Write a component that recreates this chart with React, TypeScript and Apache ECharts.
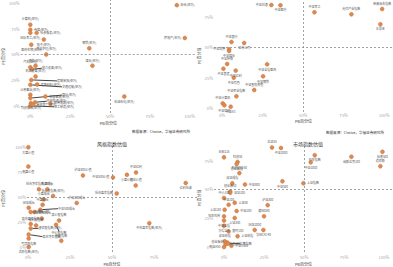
import React, { useEffect, useRef } from "react";
import * as echarts from "echarts";

const FONT = "'Noto Sans CJK SC', 'Noto Sans', sans-serif";

const tickValues = [0, 25, 50, 75, 100];
const tickValuesBL = [0, 25, 50, 75];
const xAxisName = "PB百分位";
const yAxisName = "PE百分位";
const titleBL = "风格指数估值";
const titleBR = "市场指数估值";
const sourceText = "数据来源：Choice，华福证券研究所";

// Top-left: industry indices (申万)
const tlNames = [
  "综合(申万)", "房地产(申万)", "钢铁(申万)", "煤炭(申万)", "石油石化(申万)",
  "计算机(申万)", "传媒(申万)", "国防军工(申万)", "社会服务(申万)", "电子(申万)",
  "医药生物(申万)", "美容护理(申万)", "通信(申万)", "汽车(申万)", "电力设备(申万)",
  "机械设备(申万)", "建筑装饰(申万)", "建筑材料(申万)", "交通运输(申万)", "公用事业(申万)",
  "银行(申万)", "非银金融(申万)", "家用电器(申万)", "纺织服饰(申万)", "轻工制造(申万)",
  "商贸零售(申万)", "农林牧渔(申万)",
];
const tlX = [92, 97, 37, 39, 59, 0, 0, 0, 4, 8.5, 0.6, 10, 3.3, 0, 1.2, 3.3, 0.6, 4.3, 0, 0, 0, 9.5, 12.6, 0.4, 0, 1.5, 3];
const tlY = [98, 66, 56, 39, 9, 79, 74, 71, 71, 64.5, 59.5, 50, 39, 37.5, 35.6, 28.5, 25.2, 20.7, 20.4, 10.7, 7.5, 9, 2.3, 2.6, 0, 1, 3.5];
const tlPos = ["right", "left", "top", "top", "bottom", "top", "right", "bottom", "right", "bottom", "bottom", "top", "top", "top", "right", "top", "right", "right", "right", "top", "right", "right", "right", "bottom", "right", "right", "right"];
const tlLeader: Record<number, [number, number]> = { 14: [6, -1], 16: [22, 1], 18: [28, 2], 20: [28, -3], 24: [20, 1], 26: [8, -1] };

// Top-right: theme indices
const trNames = [
  "中证白酒", "中证医疗", "中证军工", "光伏产业指数", "新能源车指数",
  "半导体", "中证银行", "证券公司", "中证消费", "中证煤炭",
  "中证环保", "中证基建", "中证全指医药", "中证红利", "中证有色",
  "中证钢铁", "中证畜牧养殖", "中证农业指数", "中证计算机", "中证信创", "中证5G",
];
const trX = [30.4, 36, 57, 79.8, 98.8, 97.7, 5.8, 13.6, 4.3, 4.3, 3.1, 0.8, 27.8, 8.4, 7.2, 25.3, 19.8, 8.8, 0.4, 1.4, 5.3];
const trY = [84.9, 84.7, 78.9, 77.2, 81.6, 69, 54.4, 53.6, 48.4, 47, 36.3, 32.4, 36, 30.8, 25, 26.1, 14.8, 9.6, 3.8, 2.2, 1.1];
const trPos = ["left", "bottom", "top", "top", "top", "bottom", "top", "bottom", "left", "bottom", "top", "bottom", "bottom", "bottom", "bottom", "bottom", "top", "top", "top", "bottom", "bottom"];
const trLeader: Record<number, [number, number]> = {};

// Bottom-left: style indices
const blNames = [
  "大盘价值", "中盘价值", "沪深300价值", "中证500价值", "小盘价值",
  "中证红利", "国证价值", "红利低波", "低市盈率指数", "低市净率指数(申万)",
  "大盘成长", "低价股指数(申万)", "小盘成长", "中盘成长", "沪深300成长",
  "国证成长", "创成长", "成长100", "中证500成长", "中证1000成长",
  "高价股指数", "中价股指数", "高市盈率指数", "微利股指数", "绩优股指数(申万)",
  "高市净率指数", "亏损股指数", "中市盈率指数(申万)", "新股指数", "活跃指数(申万)",
];
const blX = [0.2, 0.2, 32.7, 50.6, 58.9, 64.3, 64.1, 93.9, 52.8, 6.5, 11.5, 14.9, 9.3, 8.7, 29, 0.4, 1.6, 3.8, 7.3, 8.2, 18.5, 16.7, 1.6, 4.8, 1.6, 0.4, 0.4, 72.2, 19.8, 0.4];
const blY = [99.7, 80.4, 71.6, 69.6, 72.2, 74.5, 61.5, 64, 53.6, 57.8, 57.8, 51, 47.7, 42.2, 44.1, 39.2, 35, 35, 37.3, 28.4, 26.5, 22.2, 22.9, 21.6, 18.6, 12.4, 8.5, 23.8, 6.2, 0];
const blPos = ["bottom", "bottom", "top", "left", "bottom", "top", "top", "bottom", "left", "top", "top", "top", "top", "top", "top", "top", "right", "right", "right", "top", "top", "bottom", "top", "top", "right", "right", "bottom", "bottom", "top", "bottom"];
const blLeader: Record<number, [number, number]> = { 18: [14, -1], 21: [3, 3], 24: [4, 0], 25: [10, 2] };

// Bottom-right: market indices
const brNames = [
  "北证50", "中证2000", "恒生指数", "中证1000", "纳斯达克100",
  "标普500", "道琼斯", "日经225", "科创50", "创业板指",
  "科创创业50", "中证500", "上证指数", "深证成指", "中证800",
  "创业板50", "深证100", "中小100", "中证100", "上证50",
  "沪深300", "上证180", "中证200", "恒生科技", "上证380",
  "德国DAX", "中证全指", "万得全A", "富时100", "国证2000",
  "法国CAC40", "上证综指", "深证综指", "创业板综", "科创100",
  "红筹指数", "中证A50", "中证A500",
];
const brX = [30, 35.6, 56.7, 54.2, 79.6, 99, 97.7, 0, 8.5, 7.9, 9.6, 36.5, 49.6, 5.2, 13.1, 3.9, 3.9, 0, 2.9, 6.7, 27.3, 0.4, 7.9, 0, 6.7, 25, 0, 0, 2.9, 19.2, 24.6, 8.5, 0.5, 2, 1, 2.5, 0, 4.6];
const brY = [86.4, 86.1, 79.8, 73.6, 78.4, 82.7, 70.2, 77.9, 73.9, 72.2, 64.2, 57.1, 55.4, 55.4, 54.3, 48.3, 47.2, 42.6, 36.7, 38.4, 36.4, 32.4, 31.3, 26.7, 25.3, 26.7, 23, 18.5, 13.6, 14.8, 14.8, 9.4, 5, 4, 2.5, 3, 0, 1.1];
const brPos = ["top", "bottom", "bottom", "bottom", "bottom", "bottom", "top", "top", "top", "bottom", "top", "bottom", "right", "top", "right", "top", "right", "top", "top", "right", "top", "left", "right", "left", "bottom", "top", "bottom", "bottom", "right", "top", "bottom", "right", "top", "left", "right", "right", "left", "right"];
const brLeader: Record<number, [number, number]> = { 35: [8, 0] };

type Panel = {
  names: string[]; xs: number[]; ys: number[]; pos: string[]; leader: Record<number, [number, number]>;
  grid: { left: number; top: number; width: number; height: number };
  xMin: number; xMax: number; yMin: number; yMax: number;
  xTicks: number[]; xMargin: number; xNameGap: number; yNameGap: number; yMargin: number;
};

const panels: Panel[] = [
  { names: tlNames, xs: tlX, ys: tlY, pos: tlPos, leader: tlLeader,
    grid: { left: 19, top: 0, width: 177, height: 113 }, xMin: -6, xMax: 104, yMin: -7, yMax: 103,
    xTicks: tickValues, xMargin: 1, xNameGap: 8, yNameGap: 14, yMargin: 1 },
  { names: trNames, xs: trX, ys: trY, pos: trPos, leader: trLeader,
    grid: { left: 214, top: 0, width: 179, height: 112 }, xMin: -5, xMax: 105.5, yMin: -3.3, yMax: 89,
    xTicks: tickValues, xMargin: 1, xNameGap: 7, yNameGap: 13, yMargin: 1 },
  { names: blNames, xs: blX, ys: blY, pos: blPos, leader: blLeader,
    grid: { left: 27, top: 145, width: 170, height: 109 }, xMin: -0.6, xMax: 100.6, yMin: -5, yMax: 102,
    xTicks: tickValuesBL, xMargin: 3, xNameGap: 10, yNameGap: 22, yMargin: 1 },
  { names: brNames, xs: brX, ys: brY, pos: brPos, leader: brLeader,
    grid: { left: 214, top: 144, width: 179, height: 110 }, xMin: -6.25, xMax: 105.6, yMin: -4.3, yMax: 89.5,
    xTicks: tickValues, xMargin: 3, xNameGap: 10, yNameGap: 13, yMargin: 1 },
];

export default function App() {
  const ref = useRef<HTMLDivElement>(null);
  useEffect(() => {
    document.body.style.margin = "0";
    if (!ref.current) return;
    const chart = echarts.init(ref.current, undefined, { renderer: "svg" });
    const option: any = {
      animation: false,
      backgroundColor: "#ffffff",
      textStyle: { fontFamily: FONT },
      title: [
        { text: titleBL, left: 107, top: 136, textAlign: "center", textStyle: { fontSize: 5, color: "#333", fontWeight: "normal", fontFamily: FONT } },
        { text: titleBR, left: 303, top: 136, textAlign: "center", textStyle: { fontSize: 5, color: "#333", fontWeight: "normal", fontFamily: FONT } },
        { text: sourceText, right: 198, top: 125, textStyle: { fontSize: 3.6, color: "#333", fontWeight: "normal", fontFamily: FONT } },
        { text: sourceText, right: 4, top: 126, textStyle: { fontSize: 3.6, color: "#333", fontWeight: "normal", fontFamily: FONT } },
      ],
      grid: panels.map((p) => ({ ...p.grid, containLabel: false })),
      xAxis: panels.map((p, i) => ({
        gridIndex: i, type: "value", min: p.xMin, max: p.xMax,
        axisLine: { show: false }, axisTick: { show: false }, splitLine: { show: false },
        axisLabel: { customValues: p.xTicks, formatter: (v: number) => `${v}%`, fontSize: 4.2, color: "#aaa", margin: p.xMargin, fontFamily: FONT },
        name: xAxisName, nameLocation: "middle", nameGap: p.xNameGap,
        nameTextStyle: { fontSize: 4, color: "#333", fontFamily: FONT },
      })),
      yAxis: panels.map((p, i) => ({
        gridIndex: i, type: "value", min: p.yMin, max: p.yMax,
        axisLine: { show: false }, axisTick: { show: false }, splitLine: { show: false },
        axisLabel: { customValues: tickValues, formatter: (v: number) => `${v}%`, fontSize: 4.2, color: "#aaa", margin: p.yMargin, fontFamily: FONT },
        name: yAxisName, nameLocation: "middle", nameGap: p.yNameGap, nameRotate: 90,
        nameTextStyle: { fontSize: 4, color: "#333", fontFamily: FONT },
      })),
      series: panels.map((p, i) => ({
        type: "scatter", xAxisIndex: i, yAxisIndex: i, symbolSize: 4,
        itemStyle: { color: "#dc8a50", borderColor: "#c46f38", borderWidth: 0.4, opacity: 1 },
        label: { show: true, formatter: "{b}", fontSize: 3, color: "#555", distance: 1.5, fontFamily: FONT },
        labelLine: { show: false, lineStyle: { color: "#111", width: 0.8 } },
        labelLayout: (params: any) => {
          const o = p.leader[params.dataIndex];
          return o ? { dx: o[0], dy: o[1] } : {};
        },
        data: p.names.map((n, k) => ({
          name: n, value: [p.xs[k], p.ys[k]],
          label: { position: p.pos[k] },
          labelLine: { show: !!p.leader[k], lineStyle: { color: "#111", width: 0.8 } },
        })),
        markLine: {
          silent: true, symbol: "none", label: { show: false },
          lineStyle: { color: "#8a8a8a", type: [2, 2], width: 0.8 },
          data: [{ xAxis: 50 }, { yAxis: 50 }],
        },
      })),
    };
    chart.setOption(option);
    return () => chart.dispose();
  }, []);
  return <div ref={ref} style={{ width: 393, height: 267 }} />;
}
